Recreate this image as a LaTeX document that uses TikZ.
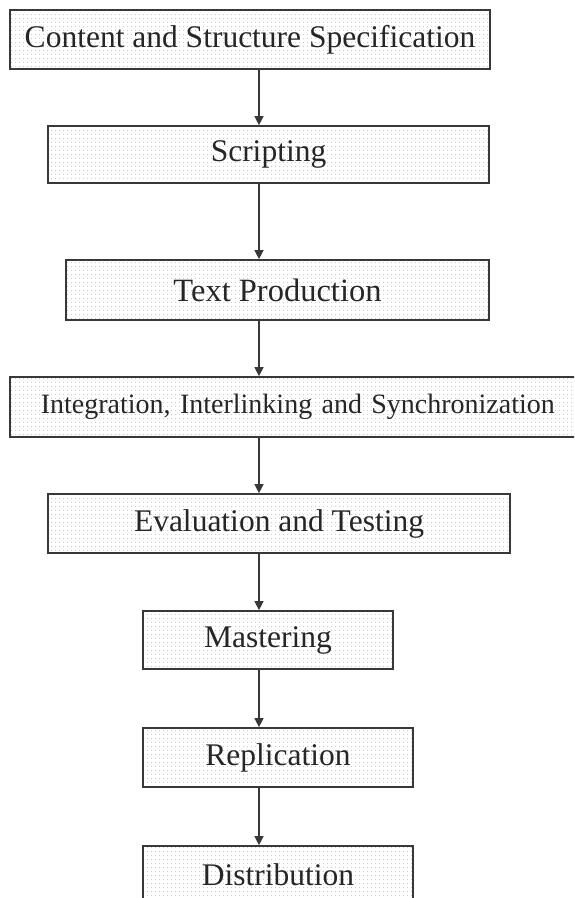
\documentclass[tikz,border=0pt]{standalone}
\usepackage{fontspec}
\setmainfont{Liberation Serif}
\usetikzlibrary{arrows.meta,patterns.meta}
\definecolor{edge}{HTML}{383838}
\definecolor{boxfill}{HTML}{F2F2F2}
\definecolor{ink}{HTML}{262626}
\begin{document}
\begin{tikzpicture}[x=1pt,y=-1pt,
  stage/.style={draw=edge, line width=1.7pt, fill=boxfill,
    pattern={Dots[distance=4pt, radius=0.55pt]}, pattern color=black!35,
    inner sep=0pt, font=\fontsize{31.5}{36}\selectfont, text=ink},
  flow/.style={draw=edge, line width=1.3pt, -{Triangle[length=9pt,width=9pt]}}]
\useasboundingbox (0,0) rectangle (574,898);
\clip (0,0) rectangle (574,898);
\fill[white] (0,0) rectangle (574,898);

% production stages, top to bottom
\node[stage, minimum width=480pt, minimum height=59pt] (b1) at (250,39.5)
  {Content and Structure Specification};
\node[stage, minimum width=441pt, minimum height=57pt] (b2) at (268.5,154.5)
  {Scripting};
\node[stage, minimum width=423pt, minimum height=60pt,
  font=\fontsize{32.5}{36}\selectfont] (b3) at (277.5,290)
  {Text Production};
% this box runs past the right margin
\node[stage, anchor=west, minimum height=60pt, text width=545pt, inner xsep=31pt,
  align=left, font=\fontsize{28}{32}\selectfont] (b4) at (9,407)
  {Integration, Interlinking and Synchronization};
\node[stage, minimum width=462pt, minimum height=59pt] (b5) at (279,523.5)
  {Evaluation and Testing};
\node[stage, minimum width=250pt, minimum height=58pt] (b6) at (268,640)
  {Mastering};
\node[stage, minimum width=270pt, minimum height=59pt] (b7) at (278,757.5)
  {Replication};
\node[stage, minimum width=270pt, minimum height=57pt] (b8) at (278,874.5)
  {Distribution};

% vertical connectors share one x position
\coordinate (ax) at (259,0);
\draw[flow] (b1.south -| ax) -- (b2.north -| ax);
\draw[flow] (b2.south -| ax) -- (b3.north -| ax);
\draw[flow] (b3.south -| ax) -- (b4.north -| ax);
\draw[flow] (b4.south -| ax) -- (b5.north -| ax);
\draw[flow] (b5.south -| ax) -- (b6.north -| ax);
\draw[flow] (b6.south -| ax) -- (b7.north -| ax);
\draw[flow] (b7.south -| ax) -- (b8.north -| ax);
\end{tikzpicture}
\end{document}
